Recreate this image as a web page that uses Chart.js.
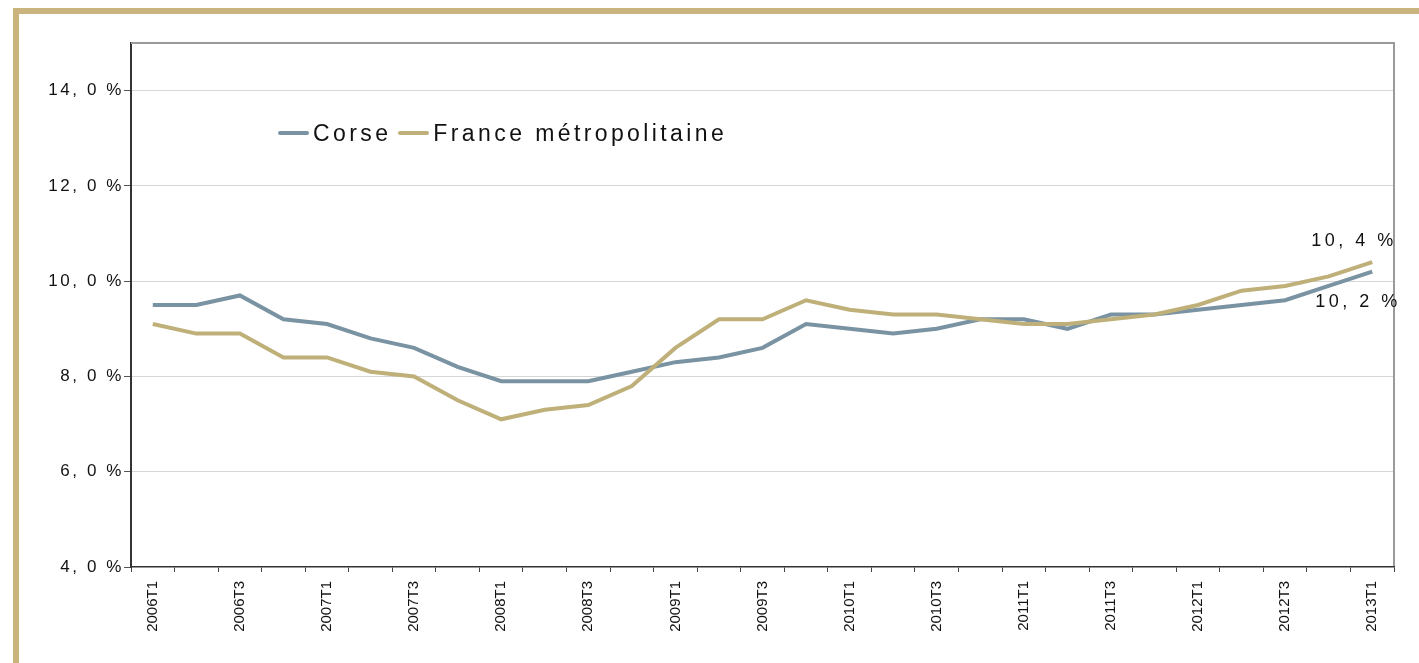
<!DOCTYPE html>
<html>
<head>
<meta charset="utf-8">
<script src="https://cdn.jsdelivr.net/npm/chart.js@4.4.1/dist/chart.umd.min.js"></script>
<style>
  html, body { margin: 0; padding: 0; background: #fff; overflow: hidden; }
  body { width: 1419px; height: 663px; position: relative; font-family: "Liberation Sans", Arial, sans-serif; }
  #frame { position: absolute; left: 13px; top: 8px; width: 1500px; height: 800px; border: 6px solid #c8b47c; box-sizing: border-box; }
  #myChart { position: absolute; left: 0; top: 0; }
  #legend { position: absolute; left: 278px; top: 120px; display: flex; align-items: center; font-size: 23px; line-height: 26px; letter-spacing: 3.4px; color: #111; }
  #legend .item { display: flex; align-items: center; margin-right: 7px; }
  #legend .swatch { width: 31px; height: 4px; margin-right: 4px; border-radius: 2px; }
</style>
</head>
<body>
<div id="frame"></div>
<canvas id="myChart" width="1419" height="663"></canvas>
<div id="legend"></div>
<script>
// quarters
const quarters = [
  "2006T1","2006T2","2006T3","2006T4",
  "2007T1","2007T2","2007T3","2007T4",
  "2008T1","2008T2","2008T3","2008T4",
  "2009T1","2009T2","2009T3","2009T4",
  "2010T1","2010T2","2010T3","2010T4",
  "2011T1","2011T2","2011T3","2011T4",
  "2012T1","2012T2","2012T3","2012T4",
  "2013T1"
];
const corse = [9.5, 9.5, 9.7, 9.2, 9.1, 8.8, 8.6, 8.2, 7.9, 7.9, 7.9, 8.1, 8.3, 8.4, 8.6, 9.1, 9.0, 8.9, 9.0, 9.2, 9.2, 9.0, 9.3, 9.3, 9.4, 9.5, 9.6, 9.9, 10.2];
const france = [9.1, 8.9, 8.9, 8.4, 8.4, 8.1, 8.0, 7.5, 7.1, 7.3, 7.4, 7.8, 8.6, 9.2, 9.2, 9.6, 9.4, 9.3, 9.3, 9.2, 9.1, 9.1, 9.2, 9.3, 9.5, 9.8, 9.9, 10.1, 10.4];
const seriesNames = ["Corse", "France métropolitaine"];
const yTicks = [4, 6, 8, 10, 12, 14];
const yMin = 4, yMax = 15;

const colors = ['#7a93a3', '#bfb07a'];

function fmt(v){
  return v.toFixed(1).replace('.', ', ') + ' %';
}

// legend (html)
const legend = document.getElementById('legend');
seriesNames.forEach((name, i) => {
  const item = document.createElement('div');
  item.className = 'item';
  const sw = document.createElement('span');
  sw.className = 'swatch';
  sw.style.background = colors[i];
  const txt = document.createElement('span');
  txt.textContent = name;
  item.appendChild(sw);
  item.appendChild(txt);
  legend.appendChild(item);
});

// spacing for y labels, reset before the x labels (ticks.z:1) are drawn
const spacingPlugin = {
  id: 'spacing',
  beforeDraw(chart){
    chart.ctx.letterSpacing = '2.6px';
  },
  beforeDatasetsDraw(chart){
    const a = chart.chartArea, ctx = chart.ctx;
    ctx.save();
    ctx.strokeStyle = '#9a9a9a';
    ctx.lineWidth = 2;
    ctx.beginPath();
    ctx.moveTo(a.left, a.top);
    ctx.lineTo(a.right, a.top);
    ctx.lineTo(a.right, a.bottom);
    ctx.stroke();
    ctx.restore();
  },
  afterDatasetsDraw(chart){
    const ctx = chart.ctx;
    ctx.save();
    ctx.letterSpacing = '3.5px';
    ctx.font = '18px "Liberation Sans", Arial, sans-serif';
    ctx.fillStyle = '#111';
    ctx.textAlign = 'left';
    ctx.textBaseline = 'alphabetic';
    chart.data.datasets.forEach((ds, i) => {
      const pts = chart.getDatasetMeta(i).data;
      const last = pts[pts.length - 1];
      ctx.fillText(fmt(ds.data[ds.data.length - 1]), last.x + ds.labelDx, last.y + ds.labelDy);
    });
    ctx.restore();
    ctx.letterSpacing = '0px';
  }
};

const ctx = document.getElementById('myChart');
const chart = new Chart(ctx, {
  type: 'line',
  data: {
    labels: quarters,
    datasets: [
      { label: seriesNames[0], data: corse, borderColor: colors[0], borderWidth: 4, pointRadius: 0, order: 1, labelDx: -57, labelDy: 35 },
      { label: seriesNames[1], data: france, borderColor: colors[1], borderWidth: 4, pointRadius: 0, order: 0, labelDx: -61, labelDy: -16 }
    ]
  },
  options: {
    responsive: false,
    animation: false,
    layout: { padding: { top: 43, right: 25, left: 0, bottom: 0 } },
    plugins: { legend: { display: false }, tooltip: { enabled: false } },
    scales: {
      x: {
        offset: true,
        grid: { offset: true, drawOnChartArea: false, tickLength: 5, tickColor: '#444', tickWidth: 1, z: 1 },
        border: { color: '#333', width: 1.5, z: 1 },
        ticks: {
          z: 1,
          autoSkip: false, maxRotation: 90, minRotation: 90, padding: 9,
          color: '#111', font: { family: '"Liberation Sans", Arial, sans-serif', size: 15 },
          callback: (v, i) => i % 2 === 0 ? quarters[i] : ''
        },
        afterFit: s => { s.height = 96; }
      },
      y: {
        min: yMin, max: yMax,
        afterBuildTicks: s => { s.ticks = yTicks.map(v => ({ value: v })); },
        grid: {
          color: c => c.tick && c.tick.value === yMin ? 'rgba(0,0,0,0)' : '#d6d6d6',
          tickColor: '#555', tickLength: 7, lineWidth: 1
        },
        border: { color: '#333', width: 2 },
        ticks: {
          padding: 0, color: '#111',
          font: { family: '"Liberation Sans", Arial, sans-serif', size: 17 },
          callback: v => fmt(v)
        },
        afterFit: s => { s.width = 131; }
      }
    }
  },
  plugins: [spacingPlugin]
});
</script>
</body>
</html>
